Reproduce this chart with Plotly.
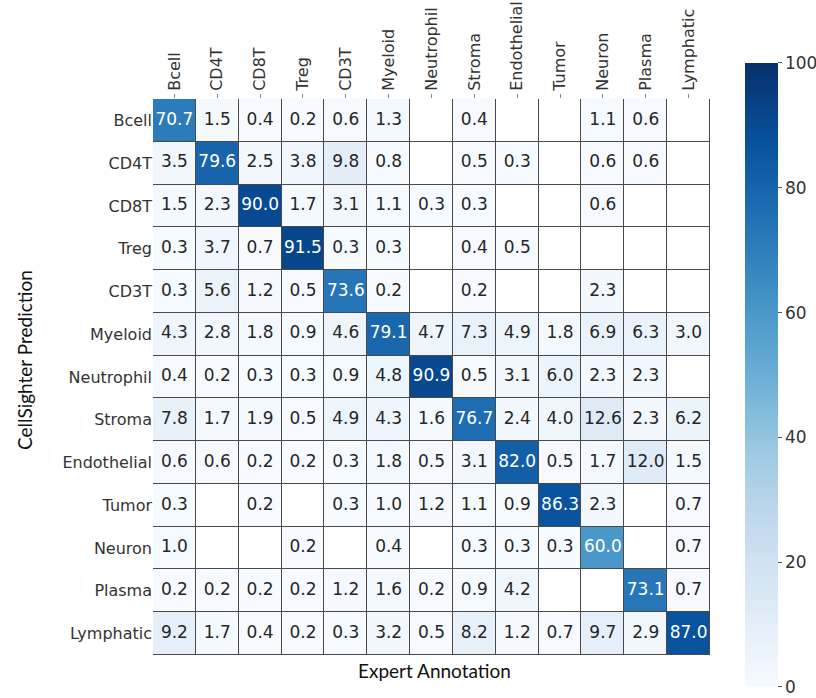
import plotly.graph_objects as go

# Cell types (rows: CellSighter prediction, columns: expert annotation)
cell_types = ["Bcell", "CD4T", "CD8T", "Treg", "CD3T", "Myeloid", "Neutrophil",
              "Stroma", "Endothelial", "Tumor", "Neuron", "Plasma", "Lymphatic"]

# Percentages per predicted class; None = no cells
bcell_row       = [70.7, 1.5, 0.4, 0.2, 0.6, 1.3, None, 0.4, None, None, 1.1, 0.6, None]
cd4t_row        = [3.5, 79.6, 2.5, 3.8, 9.8, 0.8, None, 0.5, 0.3, None, 0.6, 0.6, None]
cd8t_row        = [1.5, 2.3, 90.0, 1.7, 3.1, 1.1, 0.3, 0.3, None, None, 0.6, None, None]
treg_row        = [0.3, 3.7, 0.7, 91.5, 0.3, 0.3, None, 0.4, 0.5, None, None, None, None]
cd3t_row        = [0.3, 5.6, 1.2, 0.5, 73.6, 0.2, None, 0.2, None, None, 2.3, None, None]
myeloid_row     = [4.3, 2.8, 1.8, 0.9, 4.6, 79.1, 4.7, 7.3, 4.9, 1.8, 6.9, 6.3, 3.0]
neutrophil_row  = [0.4, 0.2, 0.3, 0.3, 0.9, 4.8, 90.9, 0.5, 3.1, 6.0, 2.3, 2.3, None]
stroma_row      = [7.8, 1.7, 1.9, 0.5, 4.9, 4.3, 1.6, 76.7, 2.4, 4.0, 12.6, 2.3, 6.2]
endothelial_row = [0.6, 0.6, 0.2, 0.2, 0.3, 1.8, 0.5, 3.1, 82.0, 0.5, 1.7, 12.0, 1.5]
tumor_row       = [0.3, None, 0.2, None, 0.3, 1.0, 1.2, 1.1, 0.9, 86.3, 2.3, None, 0.7]
neuron_row      = [1.0, None, None, 0.2, None, 0.4, None, 0.3, 0.3, 0.3, 60.0, None, 0.7]
plasma_row      = [0.2, 0.2, 0.2, 0.2, 1.2, 1.6, 0.2, 0.9, 4.2, None, None, 73.1, 0.7]
lymphatic_row   = [9.2, 1.7, 0.4, 0.2, 0.3, 3.2, 0.5, 8.2, 1.2, 0.7, 9.7, 2.9, 87.0]

matrix = [bcell_row, cd4t_row, cd8t_row, treg_row, cd3t_row, myeloid_row,
          neutrophil_row, stroma_row, endothelial_row, tumor_row, neuron_row,
          plasma_row, lymphatic_row]

colorbar_ticks = [0, 20, 40, 60, 80, 100]

blues = [[0.0, "rgb(247,251,255)"], [0.125, "rgb(222,235,247)"],
         [0.25, "rgb(198,219,239)"], [0.375, "rgb(158,202,225)"],
         [0.5, "rgb(107,174,214)"], [0.625, "rgb(66,146,198)"],
         [0.75, "rgb(33,113,181)"], [0.875, "rgb(8,81,156)"],
         [1.0, "rgb(8,48,107)"]]

FONT = "DejaVu Sans"
GRID = "#4a4a4a"

fig = go.Figure()

# white base layer so that empty cells stay white while gaps show the grid colour
fig.add_trace(go.Heatmap(
    x=cell_types, y=cell_types,
    z=[[0] * len(cell_types) for _ in cell_types],
    colorscale=[[0, "white"], [1, "white"]], showscale=False,
    xgap=1, ygap=1, hoverinfo="skip"))

fig.add_trace(go.Heatmap(
    x=cell_types, y=cell_types, z=matrix,
    zmin=0, zmax=100, colorscale=blues,
    xgap=1, ygap=1, hoverinfo="skip",
    colorbar=dict(
        thicknessmode="pixels", thickness=33,
        lenmode="pixels", len=624,
        x=1.063, xanchor="left", y=0.5036, yanchor="middle",
        outlinewidth=0, xpad=0, ypad=0,
        tickvals=colorbar_ticks, ticks="outside", ticklen=4,
        tickcolor="#555", tickfont=dict(family=FONT, size=17, color="#333"),
    )))

# cell annotations
tx, ty, tt, tc = [], [], [], []
for i, row in enumerate(matrix):
    for j, v in enumerate(row):
        if v is None:
            continue
        tx.append(cell_types[j])
        ty.append(cell_types[i])
        tt.append(f"{v:.1f}")
        tc.append("white" if v >= 50 else "#262626")

fig.add_trace(go.Scatter(
    x=tx, y=ty, text=tt, mode="text",
    textfont=dict(family=FONT, size=17, color=tc),
    hoverinfo="skip", showlegend=False))

fig.update_xaxes(
    side="top", tickangle=-90, range=[-0.5, len(cell_types) - 0.5],
    ticks="outside", ticklen=4, tickcolor="#888",
    tickfont=dict(family=FONT, size=16, color="#333"),
    showgrid=False, zeroline=False, showline=False, fixedrange=True,
    automargin=False)
fig.update_yaxes(
    autorange=False, range=[len(cell_types) - 0.5, -0.5],
    ticks="", tickfont=dict(family=FONT, size=16, color="#333"),
    showgrid=False, zeroline=False, showline=False, fixedrange=True,
    automargin=False)

fig.update_layout(
    width=816, height=698,
    margin=dict(l=153, r=106, t=99, b=43, autoexpand=False),
    plot_bgcolor=GRID, paper_bgcolor="white",
    showlegend=False,
    annotations=[
        dict(text="CellSighter Prediction", xref="paper", yref="paper",
             x=-0.2298, y=0.5306, xanchor="center", yanchor="middle",
             textangle=-90, showarrow=False,
             font=dict(family="Lato", size=19, color="#111")),
        dict(text="Expert Annotation", xref="paper", yref="paper",
             x=0.506, y=-0.027, xanchor="center", yanchor="middle",
             showarrow=False, font=dict(family="Lato", size=19, color="#111")),
    ])

fig.write_html("out.html")
